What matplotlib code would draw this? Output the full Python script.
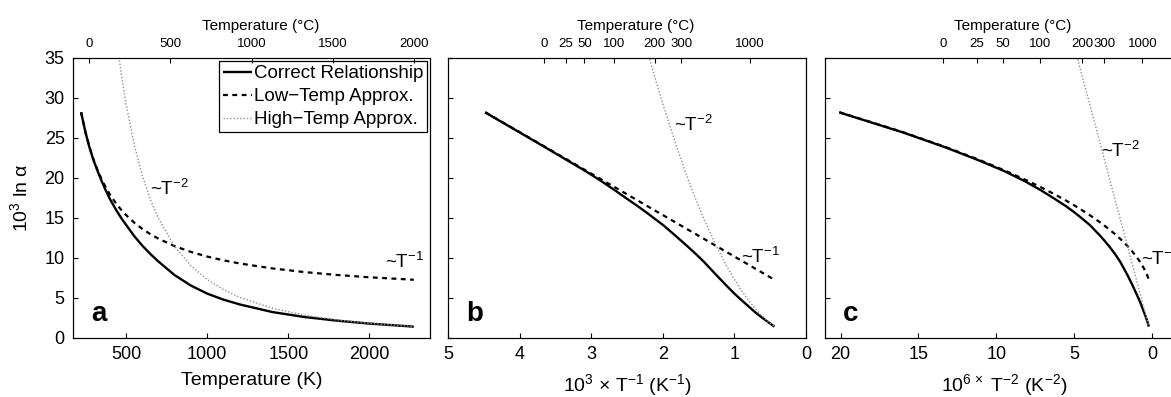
import matplotlib
matplotlib.use('Agg')
import matplotlib.pyplot as plt

plt.rcParams['font.family'] = ['Liberation Sans', 'DejaVu Sans']
plt.rcParams['mathtext.fontset'] = 'custom'
plt.rcParams['mathtext.rm'] = 'Liberation Sans'
plt.rcParams['mathtext.it'] = 'Liberation Sans:italic'
plt.rcParams['mathtext.bf'] = 'Liberation Sans:bold'

# ---------------- data ----------------
T_K = [223.15, 250, 275, 300, 325, 350, 375, 400, 425, 450, 475, 500, 550, 600,
       650, 700, 800, 900, 1000, 1100, 1200, 1400, 1600, 1800, 2000, 2273.15]
correct = [28.2, 25.7, 23.8, 22.2, 20.85, 19.6, 18.45, 17.4, 16.5, 15.65, 14.85,
           14.15, 12.75, 11.55, 10.5, 9.55, 7.85, 6.55, 5.55, 4.8, 4.2, 3.25,
           2.62, 2.17, 1.8, 1.42]
low_temp = [28.23, 25.74, 23.85, 22.28, 20.95, 19.81, 18.83, 17.96, 17.2, 16.52,
            15.91, 15.37, 14.43, 13.64, 12.98, 12.41, 11.48, 10.76, 10.18, 9.71,
            9.32, 8.70, 8.24, 7.88, 7.59, 7.28]
T_K_high = [425, 450, 475, 500, 550, 600, 650, 700, 800, 900, 1000, 1100, 1200,
            1400, 1600, 1800, 2000, 2273.15]
high_temp = [40.5, 36.15, 32.4, 29.28, 24.2, 20.33, 17.32, 14.94, 11.44, 9.04,
             7.32, 6.05, 5.08, 3.73, 2.86, 2.26, 1.83, 1.42]

legend_labels = ['Correct Relationship', 'Low\u2212Temp Approx.', 'High\u2212Temp Approx.']
top_C_a = [0, 500, 1000, 1500, 2000]
top_C_bc = [0, 25, 50, 100, 200, 300, 1000]
yticks = [0, 5, 10, 15, 20, 25, 30, 35]
xticks_a = [500, 1000, 1500, 2000]
xticks_b = [5, 4, 3, 2, 1, 0]
xticks_c = [20, 15, 10, 5, 0]

# transforms for each panel's x axis
def fa(T):
    return T
def fb(T):
    return 1000.0 / T
def fc(T):
    return 1e6 / T ** 2

W, H = 1171, 397
fig = plt.figure(figsize=(W / 100, H / 100), dpi=100)

bottom = (H - 338) / H
height = 280 / H
axes_pos = [
    [73 / W, bottom, 357 / W, height],
    [448 / W, bottom, 358 / W, height],
    [825 / W, bottom, 358 / W, height],
]
funcs = [fa, fb, fc]
xlims = [(173.15, 2373.15), (5, 0), (21, -2)]
xticks_list = [xticks_a, xticks_b, xticks_c]
top_C = [top_C_a, top_C_bc, top_C_bc]
xlabels = ['Temperature (K)',
           r'10$^3$ $\times$ T$^{-1}$ (K$^{-1}$)',
           r'10$^{6\,\times}$ T$^{-2}$ (K$^{-2}$)']
letters = ['a', 'b', 'c']

# annotation positions (data coords)
ann_T2 = [(649, 17.9), (1.847, 25.9), (3.29, 22.6)]
ann_T1 = [(2093, 8.7), (0.907, 9.33), (0.69, 9.1)]

dot_color = '#8f8f8f'

for i in range(3):
    ax = fig.add_axes(axes_pos[i])
    f = funcs[i]
    xs = [f(t) for t in T_K]
    xh = [f(t) for t in T_K_high]
    l1, = ax.plot(xs, correct, color='black', lw=1.7, solid_capstyle='butt')
    l2, = ax.plot(xs, low_temp, color='black', lw=1.6, dashes=(2.2, 2.0))
    l3, = ax.plot(xh, high_temp, color=dot_color, lw=1.0, linestyle=(0, (1.0, 1.4)))
    ax.set_xlim(*xlims[i])
    ax.set_ylim(0, 35)
    ax.set_yticks(yticks)
    ax.set_xticks(xticks_list[i])
    ax.set_xticklabels([str(v) for v in xticks_list[i]])
    ax.tick_params(direction='in', length=3.5, width=0.8, labelsize=13, pad=6,
                   top=False, right=False)
    if i > 0:
        ax.tick_params(labelleft=False)
    else:
        ax.set_yticklabels([str(v) for v in yticks])
        ax.set_ylabel(r'10$^3$ ln α', fontsize=14, labelpad=10)
    ax.set_xlabel(xlabels[i], fontsize=14, labelpad=6)
    for s in ax.spines.values():
        s.set_linewidth(0.8)

    ax.text(0.05, 0.062, letters[i], transform=ax.transAxes, fontsize=20,
            fontweight='bold', ha='left', va='baseline')
    ax.text(ann_T2[i][0], ann_T2[i][1], r'~T$^{-2}$', fontsize=13.5,
            ha='left', va='baseline')
    ax.text(ann_T1[i][0], ann_T1[i][1], r'~T$^{-1}$', fontsize=13.5,
            ha='left', va='baseline')

    if i == 0:
        leg = ax.legend([l1, l2, l3], legend_labels, loc='upper right',
                        fontsize=13.5, frameon=True, fancybox=False,
                        edgecolor='black', framealpha=1, borderaxespad=0.15,
                        handlelength=1.55, handletextpad=0.08, labelspacing=0.32,
                        borderpad=0.22)
        leg.get_frame().set_linewidth(0.9)

    axt = ax.twiny()
    axt.set_xlim(*xlims[i])
    axt.set_xticks([f(c + 273.15) for c in top_C[i]])
    axt.set_xticklabels([str(c) for c in top_C[i]])
    axt.tick_params(direction='in', length=3.5, width=0.8, labelsize=9.5, pad=6)
    axt.set_xlabel('Temperature (°C)', fontsize=11)
    axt.xaxis.set_label_coords(0.525, 1.10)
    for s in axt.spines.values():
        s.set_linewidth(0.8)

fig.savefig('out.png', dpi=100)
